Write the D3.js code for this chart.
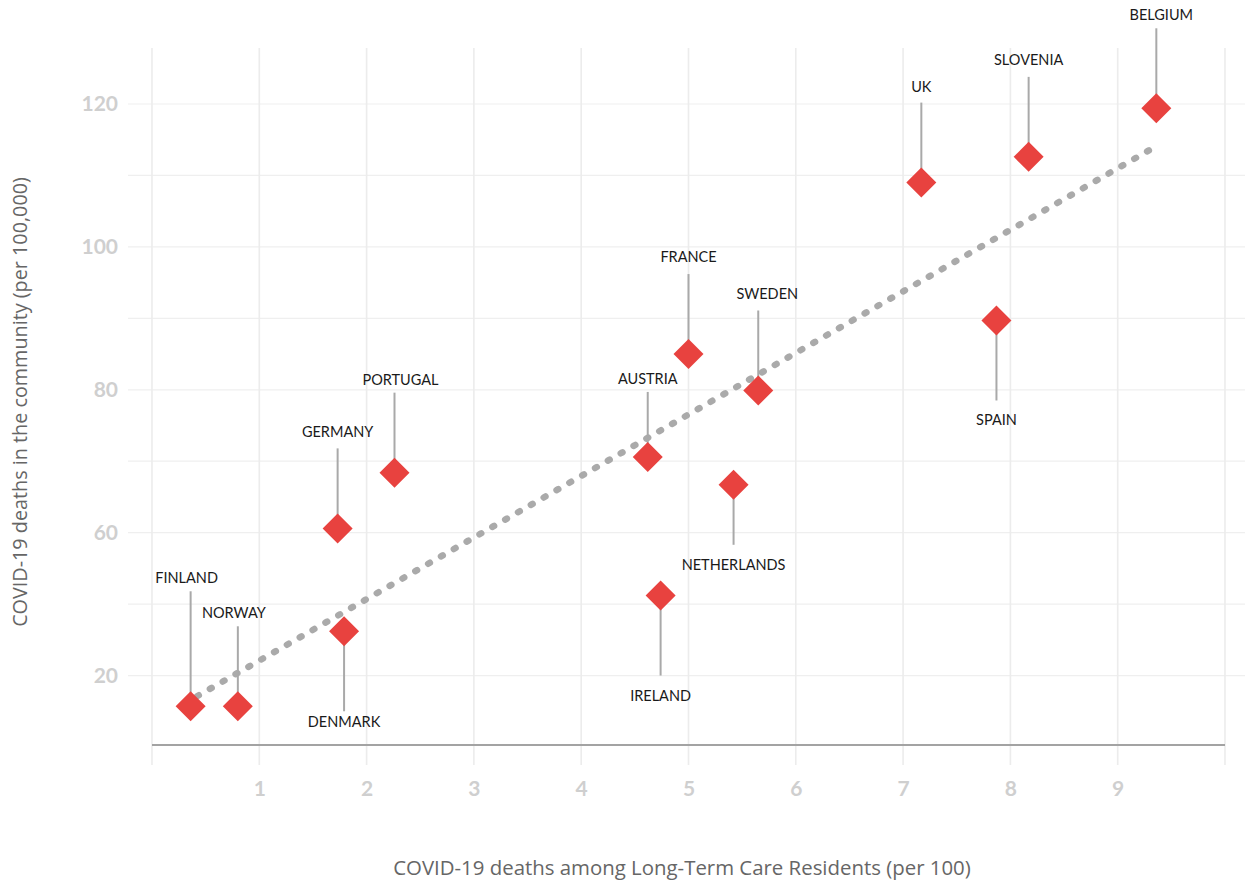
<!DOCTYPE html>
<html>
<head>
<meta charset="utf-8">
<script src="https://cdn.jsdelivr.net/npm/d3@7"></script>
<style>
  body { margin: 0; background: #fff; }
  svg { display: block; }
</style>
</head>
<body>
<div class="chart"></div>
<script>
(() => {
  // values
  const countries = ["FINLAND", "NORWAY", "DENMARK", "GERMANY", "PORTUGAL", "AUSTRIA", "IRELAND",
    "FRANCE", "NETHERLANDS", "SWEDEN", "SPAIN", "UK", "SLOVENIA", "BELGIUM"];
  const ltcDeaths = [0.36, 0.80, 1.79, 1.73, 2.26, 4.62, 4.74, 5.00, 5.42, 5.65, 7.87, 7.17, 8.17, 9.36];
  const communityDeaths = [35.7, 35.7, 46.2, 60.6, 68.4, 70.6, 51.2, 85.0, 66.7, 79.9, 89.7, 109.0, 112.6, 119.4];
  const labelSide = ["up", "up", "down", "up", "up", "up", "down", "up", "down", "up", "down", "up", "up", "up"];

  const trendX = [0.42, 9.36];
  const trendY = [37.1, 114.1];

  const xTicks = [1, 2, 3, 4, 5, 6, 7, 8, 9];
  const xGrid = [0, 1, 2, 3, 4, 5, 6, 7, 8, 9, 10];
  const yTicks = [40, 60, 80, 100, 120];
  const yTickLabels = ["20", "60", "80", "100", "120"];
  const yGrid = [40, 50, 60, 70, 80, 90, 100, 110, 120];

  const xTitle = "COVID-19 deaths among Long-Term Care Residents (per 100)";
  const yTitle = "COVID-19 deaths in the community (per 100,000)";

  // label tweaks (leader length / nudges), layout only
  const leaderLen = { FINLAND: 115, AUSTRIA: 65, NETHERLANDS: 60 };
  const labelDx = { FINLAND: -4, NORWAY: -4, PORTUGAL: 6, SWEDEN: 9, BELGIUM: 5 };
  const labelDy = { DENMARK: -9, FRANCE: -4, SLOVENIA: -4, UK: -3, SWEDEN: -3, GERMANY: -3 };

  const width = 1246, height = 881;
  const red = "#e8423f";

  const svg = d3.select(".chart").append("svg")
    .attr("width", width)
    .attr("height", height);

  const x = d3.scaleLinear().domain([0, 10]).range([152, 1225]);
  const y = d3.scaleLinear().domain([30, 120]).range([747, 104]);

  // gridlines
  svg.append("g").attr("class", "hgrid")
    .selectAll("line").data(yGrid).enter().append("line")
    .attr("x1", 128).attr("x2", 1245)
    .attr("y1", d => y(d)).attr("y2", d => y(d))
    .style("stroke", "#efefef").style("stroke-width", 1.2);

  svg.append("g").attr("class", "vgrid")
    .selectAll("line").data(xGrid).enter().append("line")
    .attr("x1", d => x(d)).attr("x2", d => x(d))
    .attr("y1", 48).attr("y2", 765)
    .style("stroke", "#ececec").style("stroke-width", 1.6);

  const tickStyle = sel => sel
    .style("font-family", "Lato, 'Open Sans', sans-serif")
    .style("font-weight", "bold")
    .style("font-size", "21px")
    .style("fill", "#cfcfcf");

  // x axis
  const xAxis = svg.append("g")
    .attr("transform", `translate(0,${y(30) - 2})`)
    .call(d3.axisBottom(x).tickValues(xTicks).tickSize(0).tickPadding(36).tickFormat(d3.format("d")));
  xAxis.select(".domain").remove();
  xAxis.selectAll("text").call(tickStyle);

  svg.append("line")
    .attr("x1", x(0)).attr("x2", x(10))
    .attr("y1", y(30) - 2).attr("y2", y(30) - 2)
    .style("stroke", "#a3a3a3").style("stroke-width", 2);

  // y axis
  const yAxis = svg.append("g")
    .attr("transform", "translate(119,0)")
    .call(d3.axisLeft(y).tickValues(yTicks).tickSize(0).tickPadding(1)
      .tickFormat((d, i) => yTickLabels[i]));
  yAxis.select(".domain").remove();
  yAxis.selectAll("text").call(tickStyle);

  // axis titles
  svg.append("text")
    .attr("x", 682).attr("y", 875)
    .attr("text-anchor", "middle")
    .style("font-family", "'Open Sans', sans-serif")
    .style("font-size", "20.4px")
    .style("fill", "#666")
    .text(xTitle);

  svg.append("text")
    .attr("transform", "translate(27,402) rotate(-90)")
    .attr("text-anchor", "middle")
    .style("font-family", "'Open Sans', sans-serif")
    .style("font-size", "19.8px")
    .style("fill", "#666")
    .text(yTitle);

  // trend line
  const trend = trendX.map((d, i) => [d, trendY[i]]);
  svg.append("path")
    .datum(trend)
    .attr("d", d3.line().x(d => x(d[0])).y(d => y(d[1])))
    .style("fill", "none")
    .style("stroke", "#aaaaaa")
    .style("stroke-width", 6.5)
    .style("stroke-linecap", "round")
    .style("stroke-dasharray", "2 12.8");

  const data = countries.map((c, i) => ({
    name: c, x: ltcDeaths[i], y: communityDeaths[i], side: labelSide[i]
  }));

  const len = d => leaderLen[d.name] || 80;
  const dir = d => d.side === "up" ? -1 : 1;

  // leader lines
  svg.append("g").attr("class", "leaders")
    .selectAll("line").data(data).enter().append("line")
    .attr("x1", d => x(d.x)).attr("x2", d => x(d.x))
    .attr("y1", d => y(d.y))
    .attr("y2", d => y(d.y) + dir(d) * len(d))
    .style("stroke", "#a9a9a9").style("stroke-width", 2);

  // diamonds
  svg.append("g").attr("class", "points")
    .selectAll("path").data(data).enter().append("path")
    .attr("d", d3.symbol().type(d3.symbolSquare).size(450))
    .attr("transform", d => `translate(${x(d.x)},${y(d.y)}) rotate(45)`)
    .style("fill", red);

  // labels
  svg.append("g").attr("class", "labels")
    .selectAll("text").data(data).enter().append("text")
    .attr("x", d => x(d.x) + (labelDx[d.name] || 0))
    .attr("y", d => (d.side === "up" ? y(d.y) - len(d) - 8 : y(d.y) + len(d) + 25) + (labelDy[d.name] || 0))
    .attr("text-anchor", "middle")
    .style("font-family", "Lato, sans-serif")
    .style("font-size", "14.5px")
    .style("fill", "#1a1a1a")
    .text(d => d.name);
})();
</script>
</body>
</html>
